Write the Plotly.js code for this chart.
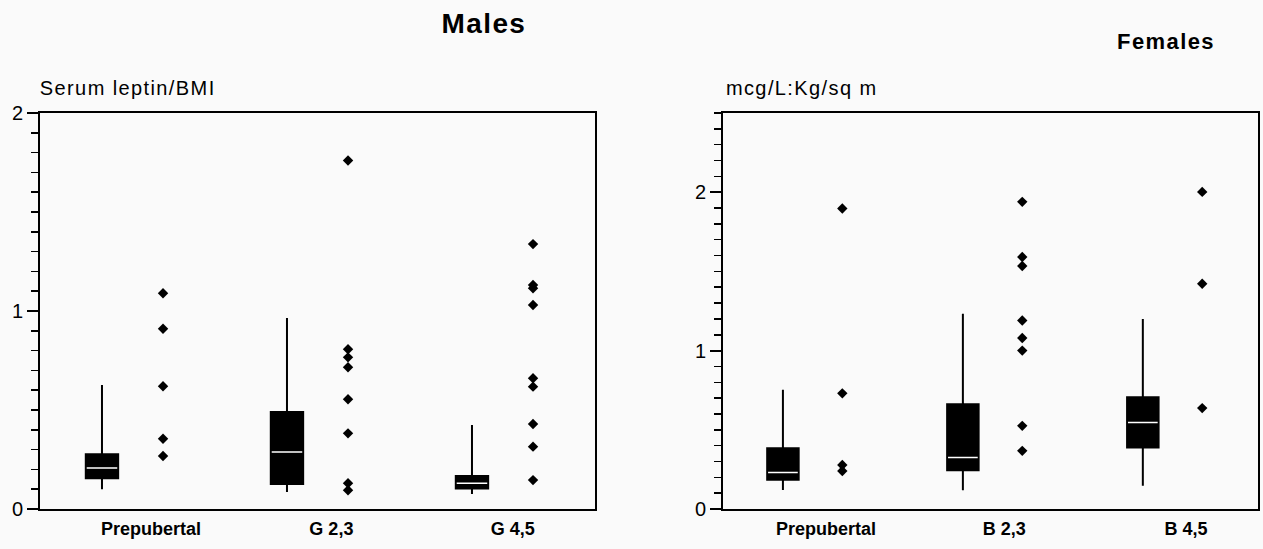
<!DOCTYPE html>
<html>
<head>
<meta charset="utf-8">
<script src="https://cdn.plot.ly/plotly-3.0.1.min.js"></script>
<style>
html,body{margin:0;padding:0;background:#fafafa;}
#chart{width:1263px;height:549px;}
#chart text.annotation-text{letter-spacing:1.4px;}
</style>
</head>
<body>
<div id="chart"></div>
<script>
// ---- data ----
const maleCategories = ['Prepubertal', 'G 2,3', 'G 4,5'];
const femaleCategories = ['Prepubertal', 'B 2,3', 'B 4,5'];

const maleLowerWhisker = [0.10, 0.086, 0.076];
const maleQ1 = [0.155, 0.126, 0.104];
const maleMedian = [0.207, 0.288, 0.13];
const maleQ3 = [0.276, 0.49, 0.167];
const maleUpperWhisker = [0.626, 0.965, 0.424];
const maleOutliers0 = [1.09, 0.91, 0.62, 0.355, 0.268];
const maleOutliers1 = [1.76, 0.807, 0.766, 0.716, 0.554, 0.382, 0.13, 0.095];
const maleOutliers2 = [1.338, 1.131, 1.115, 1.03, 0.66, 0.618, 0.429, 0.315, 0.146];

const femaleLowerWhisker = [0.12, 0.118, 0.146];
const femaleQ1 = [0.184, 0.245, 0.388];
const femaleMedian = [0.23, 0.325, 0.546];
const femaleQ3 = [0.384, 0.662, 0.705];
const femaleUpperWhisker = [0.753, 1.232, 1.2];
const femaleOutliers0 = [1.897, 0.73, 0.278, 0.24];
const femaleOutliers1 = [1.939, 1.591, 1.534, 1.19, 1.08, 1.0, 0.525, 0.367];
const femaleOutliers2 = [2.002, 1.422, 0.637];

const maleTickValues = [0, 1, 2];
const maleTickText = ['0', '1', '2'];
const femaleTickValues = [0, 1, 2];
const femaleTickText = ['0', '1', '2'];

// ---- layout constants ----
const OUTLIER_SHIFT = 0.33;
const maleLabelShift = [0.265, 0.24, 0.22];
const femaleLabelShift = [0.24, 0.23, 0.24];
const BOX_W = 0.175;

function panelTraces(xa, ya, lo, q1, med, q3, hi, outs) {
  const idx = [0, 1, 2];
  const traces = [];
  traces.push({
    type: 'box', xaxis: xa, yaxis: ya, x: idx,
    lowerfence: lo, q1: q1, median: med, q3: q3, upperfence: hi,
    width: BOX_W, whiskerwidth: 0, fillcolor: '#000',
    line: {color: '#000', width: 2}, hoverinfo: 'skip', boxpoints: false
  });
  // white median line
  traces.push({
    type: 'box', xaxis: xa, yaxis: ya, x: idx,
    lowerfence: med, q1: med, median: med, q3: med, upperfence: med,
    width: BOX_W - 0.01, whiskerwidth: 0, fillcolor: 'rgba(0,0,0,0)',
    line: {color: '#fff', width: 1.5}, hoverinfo: 'skip', boxpoints: false
  });
  outs.forEach((arr, i) => {
    traces.push({
      type: 'scatter', mode: 'markers', xaxis: xa, yaxis: ya,
      x: arr.map(() => i + OUTLIER_SHIFT), y: arr,
      marker: {symbol: 'diamond', size: 8, color: '#000'},
      hoverinfo: 'skip'
    });
  });
  return traces;
}

const data = [].concat(
  panelTraces('x', 'y', maleLowerWhisker, maleQ1, maleMedian, maleQ3, maleUpperWhisker,
    [maleOutliers0, maleOutliers1, maleOutliers2]),
  panelTraces('x2', 'y2', femaleLowerWhisker, femaleQ1, femaleMedian, femaleQ3, femaleUpperWhisker,
    [femaleOutliers0, femaleOutliers1, femaleOutliers2])
);

const W = 1263, H = 549;
const yDom = [(H - 509) / H, (H - 113) / H];
const fontFam = '"Liberation Sans", Arial, sans-serif';

function xAxis(domain, range, labels, shifts) {
  return {
    domain: domain, range: range, showgrid: false, zeroline: false,
    showline: true, linecolor: '#000', linewidth: 2, mirror: true,
    tickmode: 'array', tickvals: labels.map((_, i) => i + shifts[i]), ticktext: labels,
    ticks: 'outside', ticklen: 2, tickcolor: 'rgba(0,0,0,0)',
    tickfont: {family: fontFam, size: 18, color: '#000', weight: 'bold'},
    fixedrange: true
  };
}
function yAxis(range, tv, tt, anchor) {
  return {
    domain: yDom, range: range, anchor: anchor, showgrid: false, zeroline: false,
    showline: true, linecolor: '#000', linewidth: 2, mirror: true,
    tickmode: 'array', tickvals: tv, ticktext: tt,
    ticks: 'outside', ticklen: 11, tickwidth: 2, tickcolor: '#000',
    minor: {dtick: 0.1, ticks: 'outside', ticklen: 7, tickwidth: 1.5, tickcolor: '#000', showgrid: false},
    tickfont: {family: fontFam, size: 20, color: '#000'},
    fixedrange: true
  };
}

const layout = {
  width: W, height: H,
  margin: {l: 0, r: 0, t: 0, b: 0},
  paper_bgcolor: '#fafafa', plot_bgcolor: '#fafafa',
  showlegend: false,
  xaxis: xAxis([40 / W, 595 / W], [-0.335, 2.665], maleCategories, maleLabelShift),
  yaxis: yAxis([0, 2], maleTickValues, maleTickText, 'x'),
  xaxis2: Object.assign(xAxis([723 / W, 1258 / W], [-0.333, 2.64], femaleCategories, femaleLabelShift), {anchor: 'y2'}),
  yaxis2: yAxis([0, 2.5], femaleTickValues, femaleTickText, 'x2'),
  annotations: [
    {text: 'Males', xref: 'paper', yref: 'paper', x: 484 / W, y: 1 - 23 / H, showarrow: false,
     font: {family: fontFam, size: 28, color: '#000', weight: 'bold'}, xanchor: 'center', yanchor: 'middle'},
    {text: 'Females', xref: 'paper', yref: 'paper', x: 1166 / W, y: 1 - 42 / H, showarrow: false,
     font: {family: fontFam, size: 22, color: '#000', weight: 'bold'}, xanchor: 'center', yanchor: 'middle'},
    {text: 'Serum leptin/BMI', xref: 'paper', yref: 'paper', x: 49 / W, y: 1 - 88 / H, showarrow: false,
     font: {family: fontFam, size: 20, color: '#000'}, xanchor: 'left', yanchor: 'middle'},
    {text: 'mcg/L:Kg/sq m', xref: 'paper', yref: 'paper', x: 733 / W, y: 1 - 88 / H, showarrow: false,
     font: {family: fontFam, size: 20, color: '#000'}, xanchor: 'left', yanchor: 'middle'}
  ]
};

Plotly.newPlot('chart', data, layout, {displayModeBar: false, staticPlot: true});
</script>
</body>
</html>
